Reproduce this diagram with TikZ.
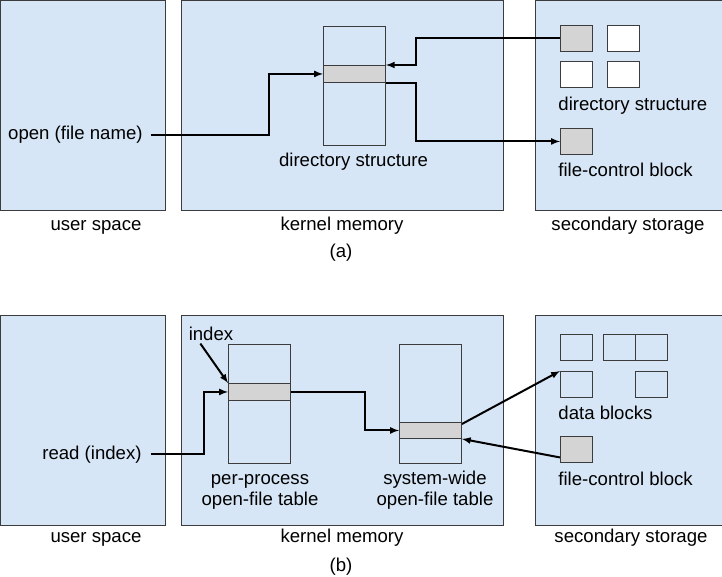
\documentclass[tikz,border=0pt]{standalone}
\usepackage{fontspec}
\setmainfont{Liberation Sans}
\usetikzlibrary{positioning}
\definecolor{panelblue}{HTML}{D7E6F6}
\definecolor{rowgray}{HTML}{D4D4D4}
\definecolor{edgegray}{HTML}{3C3C3C}

\begin{document}
\begin{tikzpicture}[x=1pt, y=-1pt, thick,
  every node/.style = {font=\fontsize{18.6}{20.5}\selectfont},
  region/.style = {draw=edgegray, fill=panelblue, line width=1.3pt, anchor=north west, inner sep=0pt, minimum height=210pt},
  tbl/.style = {draw=edgegray, line width=0.9pt, anchor=north west, inner sep=0pt, minimum width=62pt, minimum height=119pt},
  slot/.style = {draw=edgegray, fill=rowgray, line width=0.9pt, anchor=north west, inner sep=0pt, minimum width=62pt, minimum height=17pt},
  blk/.style = {draw=edgegray, line width=0.9pt, anchor=north west, inner sep=0pt, minimum width=32pt, minimum height=26pt},
  txt/.style = {anchor=base, inner sep=0pt},
  link/.style = {->, >=latex, line width=2pt}]
\useasboundingbox (0,0) rectangle (722,577);

% (a) open
\node[region, minimum width=165pt] (usera) at (0,0) {};
\node[region, minimum width=322pt] (kernela) at (181,0) {};
\node[region, minimum width=190pt] (storea) at (535,0) {};
\node[txt] (lusera) at (96,230.5) {user space};
\node[txt] (lkernela) at (342,230.5) {kernel memory};
\node[txt] (lstorea) at (628,230.5) {secondary storage};
\node[txt] (capa) at (341,257) {(a)};

\node[tbl] (dira) at (323,26) {};
\node[slot] (banda) at (323,65) {};
\node[txt] (ldira) at (353.5,167) {directory structure};
\node[txt, anchor=base east] (open) at (143,139.5) {open (file name)};

\node[blk, fill=rowgray] (dblk1) at (560,25) {};
\node[blk, fill=white] (dblk2) at (607,25) {};
\node[blk, fill=white] (dblk3) at (560,61) {};
\node[blk, fill=white] (dblk4) at (607,61) {};
\node[txt, anchor=base west] (ldirs) at (558,111) {directory structure};
\node[blk, fill=rowgray] (fcba) at (560,128) {};
\node[txt, anchor=base west] (lfcba) at (558,177) {file-control block};

\draw[link] ([xshift=8pt]open.east) -| ([xshift=-54pt]banda.west) -- (banda.west);
\draw[link] (dblk1.west) -| ([xshift=30pt]banda.north east) -- (banda.north east);
\draw[link] (banda.south east) -- ++(30,0) |- (fcba.west);

% (b) read
\node[region, minimum width=165pt] (userb) at (0,315) {};
\node[region, minimum width=322pt] (kernelb) at (181,315) {};
\node[region, minimum width=190pt] (storeb) at (535,315) {};
\node[txt] (luserb) at (96,542.5) {user space};
\node[txt] (lkernelb) at (342,542.5) {kernel memory};
\node[txt] (lstoreb) at (631,542.5) {secondary storage};
\node[txt] (capb) at (341,571.5) {(b)};

\node[tbl] (pptbl) at (228,344) {};
\node[slot] (bandpp) at (228,383) {};
\node[tbl] (swtbl) at (399,344) {};
\node[slot, minimum height=16pt] (bandsw) at (399,422) {};
\node[txt, align=center] (lpp) at (260,505) {per-process\\open-file table};
\node[txt, align=center] (lsw) at (435,505) {system-wide\\open-file table};
\node[txt] (lindex) at (211,340) {index};
\node[txt, anchor=base east] (read) at (142,459) {read (index)};

\node[blk, fill=panelblue] (db1) at (560,334) {};
\node[blk, fill=panelblue] (db2) at (603,334) {};
\node[blk, fill=panelblue] (db3) at (635,334) {};
\node[blk, fill=panelblue] (db4) at (560,371) {};
\node[blk, fill=panelblue] (db5) at (635,371) {};
\node[txt, anchor=base west] (ldata) at (558,419) {data blocks};
\node[blk, fill=rowgray] (fcbb) at (560,436) {};
\node[txt, anchor=base west] (lfcbb) at (558,485) {file-control block};

\draw[link] ([xshift=12pt, yshift=-3pt]lindex.south west) -- (bandpp.north west);
\draw[link] ([xshift=9pt]read.east) -| ([xshift=-24pt]bandpp.west) -- (bandpp.west);
\draw[link] (bandpp.east) -| ([xshift=-34pt]bandsw.west) -- (bandsw.west);
\draw[link] ([yshift=-2pt]bandsw.north east) -- (db4.north west);
\draw[link] ([yshift=-8pt]fcbb.west) -- (bandsw.south east);
\end{tikzpicture}
\end{document}
